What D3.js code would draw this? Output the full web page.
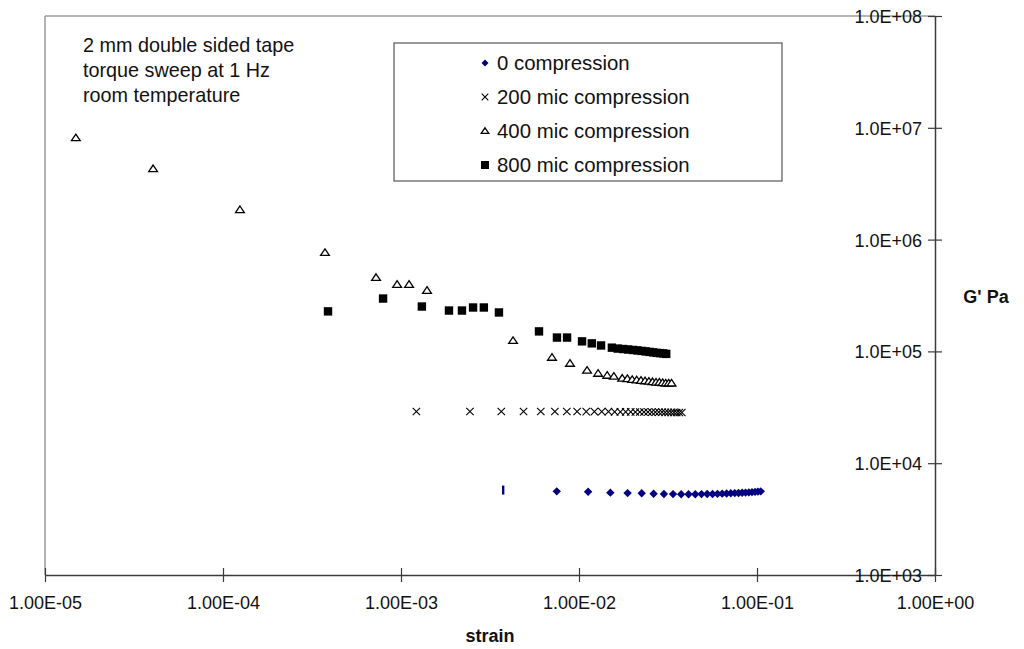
<!DOCTYPE html>
<html>
<head>
<meta charset="utf-8">
<script src="https://cdn.jsdelivr.net/npm/d3@7/dist/d3.min.js"></script>
<style>
  html, body { margin: 0; padding: 0; background: #fff; }
  svg { display: block; font-family: "Liberation Sans", Arial, sans-serif; }
</style>
</head>
<body>
<svg id="chart" width="1024" height="649"></svg>
<script>
// ---- data ----
const xTicks = [1e-5, 1e-4, 1e-3, 1e-2, 1e-1, 1e0];
const xTickLabels = ["1.00E-05", "1.00E-04", "1.00E-03", "1.00E-02", "1.00E-01", "1.00E+00"];
const yTicks = [1e3, 1e4, 1e5, 1e6, 1e7, 1e8];
const yTickLabels = ["1.0E+03", "1.0E+04", "1.0E+05", "1.0E+06", "1.0E+07", "1.0E+08"];

const seriesNames = ["0 compression", "200 mic compression", "400 mic compression", "800 mic compression"];
const notes = ["2 mm double sided tape", "torque sweep at 1 Hz", "room temperature"];

// 0 compression
const strain0 = [0.00375, 0.0075, 0.01125, 0.015, 0.01875, 0.0225, 0.02625, 0.03, 0.03375, 0.0375,
  0.04125, 0.045, 0.04875, 0.0525, 0.05625, 0.06, 0.06375, 0.0675, 0.07125, 0.075,
  0.07875, 0.0825, 0.08625, 0.09, 0.09375, 0.0975, 0.10125, 0.105];
const g0 = [5750, 5600, 5550, 5450, 5400, 5380, 5330, 5300, 5290, 5280,
  5280, 5280, 5290, 5300, 5310, 5320, 5340, 5360, 5380, 5400,
  5420, 5440, 5460, 5480, 5510, 5540, 5570, 5600];

// 200 mic compression
const strain200 = [0.00122, 0.00244, 0.00366, 0.00488, 0.0061, 0.00732, 0.00854, 0.00976, 0.01098, 0.0122,
  0.01342, 0.01464, 0.01586, 0.01708, 0.0183, 0.01952, 0.02074, 0.02196, 0.02318, 0.0244,
  0.02562, 0.02684, 0.02806, 0.02928, 0.0305, 0.03172, 0.03294, 0.03416, 0.03538, 0.0366, 0.03782];
const g200 = [29000, 29000, 29000, 29000, 29000, 29000, 29000, 29000, 28900, 28900,
  28900, 28900, 28800, 28800, 28800, 28800, 28700, 28700, 28700, 28700,
  28600, 28600, 28600, 28600, 28500, 28500, 28500, 28500, 28400, 28400, 28400];

// 400 mic compression
const strain400 = [1.49e-5, 4.05e-5, 1.245e-4, 3.74e-4, 7.24e-4, 9.51e-4, 1.11e-3, 1.40e-3, 4.26e-3, 7.05e-3,
  8.9e-3, 1.11e-2, 1.28e-2, 1.44e-2, 1.57e-2,
  0.0175, 0.0187, 0.0199, 0.0211, 0.0223, 0.0235, 0.0247, 0.0259, 0.0271, 0.0283, 0.0295, 0.0307, 0.0319, 0.0331];
const g400 = [8.14e6, 4.3e6, 1.85e6, 7.66e5, 4.58e5, 3.97e5, 3.97e5, 3.51e5, 1.25e5, 8.84e4,
  7.81e4, 6.77e4, 6.36e4, 6.1e4, 5.98e4,
  5.75e4, 5.7e4, 5.6e4, 5.55e4, 5.5e4, 5.45e4, 5.4e4, 5.35e4, 5.3e4, 5.3e4, 5.25e4, 5.2e4, 5.2e4, 5.2e4];

// 800 mic compression
const strain800 = [3.89e-4, 7.93e-4, 1.31e-3, 1.86e-3, 2.20e-3, 2.54e-3, 2.92e-3, 3.55e-3, 5.96e-3, 7.52e-3,
  8.57e-3, 1.04e-2, 1.18e-2, 1.33e-2,
  0.0153, 0.0165, 0.0177, 0.0189, 0.0201, 0.0213, 0.0225, 0.0237, 0.0249, 0.0261, 0.0273, 0.0285, 0.0297, 0.0309];
const g800 = [2.28e5, 2.97e5, 2.52e5, 2.32e5, 2.32e5, 2.47e5, 2.47e5, 2.23e5, 1.51e5, 1.33e5,
  1.33e5, 1.23e5, 1.18e5, 1.13e5,
  1.08e5, 1.06e5, 1.05e5, 1.04e5, 1.03e5, 1.02e5, 1.01e5, 1.0e5, 9.9e4, 9.8e4, 9.7e4, 9.65e4, 9.6e4, 9.5e4];

// ---- layout ----
const svg = d3.select("#chart");
const pLeft = 45, pRight = 935, pTop = 16, pBottom = 575;
const x = d3.scaleLog().domain([1e-5, 1]).range([pLeft, pRight]);
const y = d3.scaleLog().domain([1e3, 1e8]).range([pBottom, pTop]);
const axisColor = "#3a3a3a";
const fontFam = '"Liberation Sans", Arial, sans-serif';

// plot area border (top & left)
svg.append("line").attr("x1", pLeft).attr("x2", pRight).attr("y1", pTop).attr("y2", pTop)
  .attr("stroke", "#6e6e6e").attr("stroke-width", 1.2);
svg.append("line").attr("x1", pLeft).attr("x2", pLeft).attr("y1", pTop).attr("y2", pBottom)
  .attr("stroke", "#9a9a9a").attr("stroke-width", 1.5);

// x axis
const xAxis = d3.axisBottom(x).tickValues(xTicks).tickFormat((d, i) => xTickLabels[i]).tickSizeOuter(0);
const gx = svg.append("g").attr("transform", `translate(0,${pBottom})`).call(xAxis);
gx.select(".domain").attr("stroke", axisColor).attr("stroke-width", 1.5);
gx.selectAll(".tick line").attr("y1", -7).attr("y2", 7).attr("stroke", axisColor).attr("stroke-width", 1.2);
gx.selectAll(".tick text").attr("y", 28).attr("dy", "0.35em").attr("fill", "#111")
  .style("font-size", "18px").style("font-family", fontFam);

// right y axis
const yAxis = d3.axisLeft(y).tickValues(yTicks).tickFormat((d, i) => yTickLabels[i]).tickSizeOuter(0);
const gy = svg.append("g").attr("transform", `translate(${pRight},0)`).call(yAxis);
gy.select(".domain").attr("stroke", axisColor).attr("stroke-width", 1.5);
gy.selectAll(".tick line").attr("x1", -7).attr("x2", 7).attr("stroke", axisColor).attr("stroke-width", 1.2);
gy.selectAll(".tick text").attr("x", -13).attr("dy", "0.36em").attr("fill", "#111")
  .style("font-size", "18px").style("font-family", fontFam);

// axis titles
svg.append("text").attr("x", 490).attr("y", 636).attr("dy", "0.35em").attr("text-anchor", "middle")
  .style("font-size", "18px").style("font-weight", "bold").attr("fill", "#111").text("strain");
svg.append("text").attr("x", 986).attr("y", 297).attr("dy", "0.35em").attr("text-anchor", "middle")
  .style("font-size", "18px").style("font-weight", "bold").attr("fill", "#111").text("G' Pa");

// annotation
svg.append("g").selectAll("text").data(notes).join("text")
  .attr("x", 83).attr("y", (d, i) => 45 + i * 25).attr("dy", "0.35em")
  .style("font-size", "19.8px").attr("fill", "#111").text(d => d);

// ---- markers ----
const navy = "#000080";
function diamondPath(w, h) { return `M0,${-h}L${w},0L0,${h}L${-w},0Z`; }
function drawDiamond(g, cx, cy, w, h) {
  g.append("path").attr("transform", `translate(${cx},${cy})`).attr("d", diamondPath(w, h)).attr("fill", navy);
}
function drawCross(g, cx, cy, s) {
  g.append("path").attr("transform", `translate(${cx},${cy})`)
    .attr("d", `M${-s},${-s}L${s},${s}M${-s},${s}L${s},${-s}`)
    .attr("stroke", "#000").attr("stroke-width", 1.1).attr("fill", "none");
}
function drawTriangle(g, cx, cy, s) {
  g.append("path").attr("transform", `translate(${cx},${cy})`)
    .attr("d", `M0,${-s * 0.85}L${s},${s * 0.65}L${-s},${s * 0.65}Z`)
    .attr("stroke", "#000").attr("stroke-width", 1.3).attr("fill", "#fff");
}
function drawSquare(g, cx, cy, s) {
  g.append("rect").attr("x", cx - s).attr("y", cy - s).attr("width", 2 * s).attr("height", 2 * s).attr("fill", "#000");
}

const plot = svg.append("g");
// 0 compression
const g0g = plot.append("g");
strain0.forEach((s, i) => {
  if (i === 0) {
    g0g.append("rect").attr("x", x(s) - 1.2).attr("y", y(g0[i]) - 4.5)
      .attr("width", 2.4).attr("height", 9).attr("fill", navy);
  } else drawDiamond(g0g, x(s), y(g0[i]), 4.2, 4.2);
});
// 200 mic
const g200g = plot.append("g");
strain200.forEach((s, i) => drawCross(g200g, x(s), y(g200[i]), 3.7));
// 400 mic
const g400g = plot.append("g");
strain400.forEach((s, i) => drawTriangle(g400g, x(s), y(g400[i]), 4.4));
// 800 mic
const g800g = plot.append("g");
strain800.forEach((s, i) => drawSquare(g800g, x(s), y(g800[i]), 4.2));

// ---- legend ----
const lg = svg.append("g");
lg.append("rect").attr("x", 394).attr("y", 43).attr("width", 388).attr("height", 138)
  .attr("fill", "#fff").attr("stroke", "#555").attr("stroke-width", 1.2);
const rowsY = [63, 97, 131, 165];
drawDiamond(lg, 485, rowsY[0], 3.5, 3.5);
drawCross(lg, 485, rowsY[1], 3.3);
drawTriangle(lg, 485, rowsY[2], 3.8);
drawSquare(lg, 485, rowsY[3], 4);
lg.selectAll("text").data(seriesNames).join("text")
  .attr("x", 497).attr("y", (d, i) => rowsY[i]).attr("dy", "0.36em")
  .style("font-size", "20.4px").attr("fill", "#111").text(d => d);
</script>
</body>
</html>
